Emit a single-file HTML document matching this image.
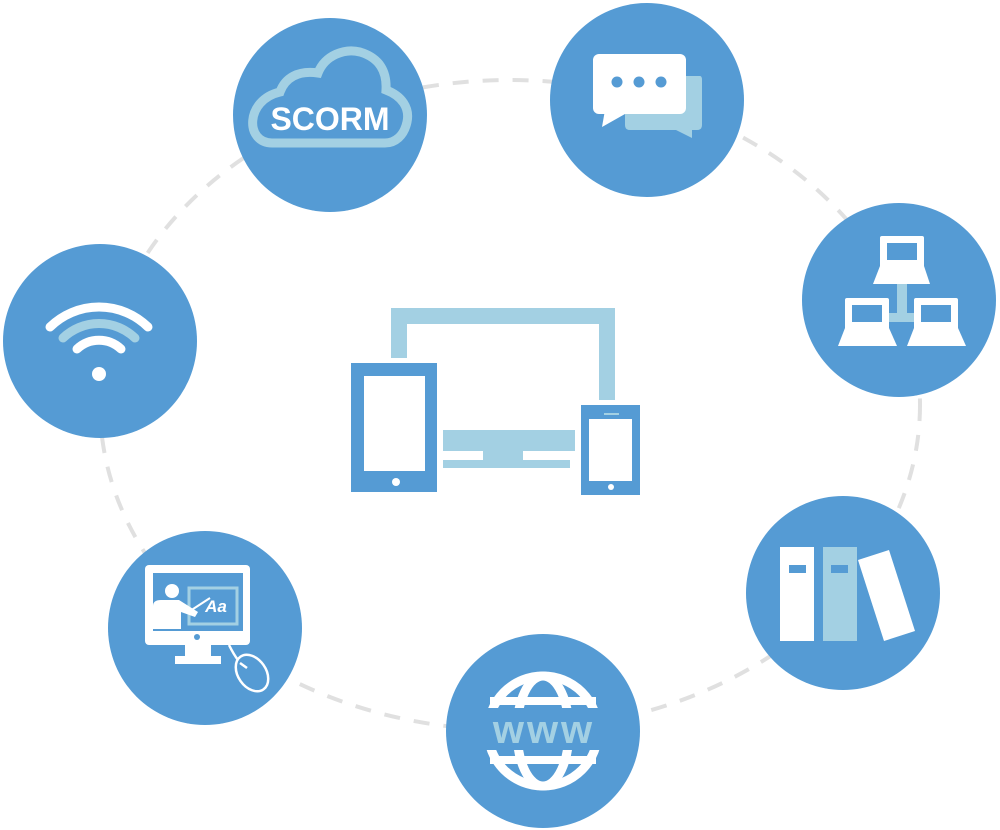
<!DOCTYPE html>
<html><head><meta charset="utf-8"><style>html,body{margin:0;padding:0;background:#fff}svg{display:block}</style></head>
<body>
<svg width="1000" height="830" viewBox="0 0 1000 830" xmlns="http://www.w3.org/2000/svg">
<ellipse cx="510" cy="405" rx="410" ry="325" fill="none" stroke="#e0e0e0" stroke-width="4" stroke-dasharray="16 14"/>
<g fill="#559bd4">
<circle cx="330" cy="115" r="97"/>
<circle cx="647" cy="100" r="97"/>
<circle cx="899" cy="300" r="97"/>
<circle cx="843" cy="593" r="97"/>
<circle cx="543" cy="731" r="97"/>
<circle cx="205" cy="628" r="97"/>
<circle cx="100" cy="341" r="97"/>
</g>
<!-- center devices -->
<path d="M391 308H615V400H599V324H407V358H391Z" fill="#a3d0e3"/>
<rect x="351" y="363" width="86" height="129" fill="#559bd4"/>
<rect x="364" y="376" width="61" height="95" fill="#fff"/>
<circle cx="396" cy="482" r="4" fill="#fff"/>
<rect x="443" y="430" width="132" height="21" fill="#a3d0e3"/>
<rect x="483" y="451" width="40" height="10" fill="#a3d0e3"/>
<rect x="443" y="460" width="127" height="8" fill="#a3d0e3"/>
<rect x="581" y="405" width="59" height="90" fill="#559bd4"/>
<rect x="589" y="419" width="43" height="62" fill="#fff"/>
<circle cx="611" cy="487" r="3" fill="#fff"/>
<rect x="604" y="413" width="15" height="2" fill="#a3d0e3"/>
<!-- SCORM cloud -->
<path d="M272 143 C245 143 245 100 280 92 C285 78 298 70 318 73 C325 55 345 48 360 52 C380 58 387 72 386 90 C402 96 410 108 407 122 C404 136 395 143 385 143 Z" fill="none" stroke="#a3d0e3" stroke-width="9"/>
<text x="330" y="130" text-anchor="middle" font-family="Liberation Sans, sans-serif" font-weight="bold" font-size="32" fill="#fff">SCORM</text>
<!-- chat -->
<path d="M625 76H700Q702 76 702 80V125Q702 130 697 130H692V138L676 130H630Q625 130 625 125Z" fill="#a3d0e3"/>
<rect x="593" y="54" width="93" height="60" rx="6" fill="#fff"/>
<path d="M605 110L602 127L625 114Z" fill="#fff"/>
<circle cx="617" cy="82" r="5.5" fill="#559bd4"/><circle cx="639" cy="82" r="5.5" fill="#559bd4"/><circle cx="661" cy="82" r="5.5" fill="#559bd4"/>
<!-- network -->
<rect x="897" y="283" width="10" height="36" fill="#a3d0e3"/>
<rect x="888" y="313" width="28" height="9" fill="#a3d0e3"/>
<g fill="#fff">
<rect x="880" y="236" width="44" height="34" rx="2"/><path d="M880 266H924L930 284H873Z"/>
<rect x="845" y="298" width="44" height="34" rx="2"/><path d="M845 328H889L897 346H838Z"/>
<rect x="914" y="298" width="44" height="34" rx="2"/><path d="M914 328H958L966 346H907Z"/>
</g>
<g fill="#559bd4"><rect x="887" y="243" width="30" height="17"/><rect x="852" y="305" width="30" height="17"/><rect x="921" y="305" width="30" height="17"/></g>
<!-- books -->
<rect x="780" y="547" width="34" height="94" fill="#fff"/>
<rect x="823" y="547" width="34" height="94" fill="#a3d0e3"/>
<rect x="789" y="565" width="17" height="8" fill="#559bd4"/>
<rect x="831" y="565" width="17" height="8" fill="#559bd4"/>
<path d="M858 560L889 550L915 631L884 641Z" fill="#fff"/>
<!-- www -->
<g fill="none" stroke="#fff" stroke-width="9">
<circle cx="543" cy="731" r="55"/>
<ellipse cx="543" cy="731" rx="26" ry="55"/>
</g>
<rect x="480" y="708" width="126" height="42" fill="#559bd4"/>
<rect x="490" y="697" width="106" height="8" fill="#fff"/>
<rect x="490" y="756" width="106" height="8" fill="#fff"/>
<text x="544" y="743" text-anchor="middle" font-family="Liberation Sans, sans-serif" font-weight="bold" font-size="40" fill="#a3d0e3" letter-spacing="3">www</text>
<!-- teacher -->
<rect x="145" y="565" width="105" height="80" rx="4" fill="#fff"/>
<rect x="153" y="573" width="90" height="58" fill="#559bd4"/>
<rect x="189" y="588" width="48" height="36" fill="#559bd4" stroke="#a3d0e3" stroke-width="3"/>
<text x="216" y="612" text-anchor="middle" font-family="Liberation Sans, sans-serif" font-style="italic" font-weight="bold" font-size="17" fill="#fff">Aa</text>
<circle cx="172" cy="591" r="7" fill="#fff"/>
<path d="M153 629V606Q153 600 161 600H179L198 612L195 617L181 612V629Z" fill="#fff"/>
<path d="M190 611L210 598" stroke="#fff" stroke-width="2"/>
<circle cx="197" cy="637" r="3" fill="#559bd4"/>
<rect x="185" y="645" width="26" height="12" fill="#fff"/>
<rect x="175" y="656" width="46" height="8" fill="#fff"/>
<g fill="none" stroke="#fff" stroke-width="2.5"><ellipse cx="252" cy="673" rx="14" ry="20" transform="rotate(-35 252 673)"/><path d="M229 645Q234 655 238 660"/><path d="M240 663L247 668"/></g>
<!-- wifi -->
<g fill="none" stroke="#fff" stroke-width="9" stroke-linecap="round">
<path d="M50 327A70 70 0 0 1 148 327"/>
<path d="M77 349A32 32 0 0 1 121 349"/>
</g>
<path d="M63 338A52 52 0 0 1 135 338" fill="none" stroke="#a3d0e3" stroke-width="9" stroke-linecap="round"/>
<circle cx="99" cy="374" r="7" fill="#fff"/>
</svg>
</body></html>
